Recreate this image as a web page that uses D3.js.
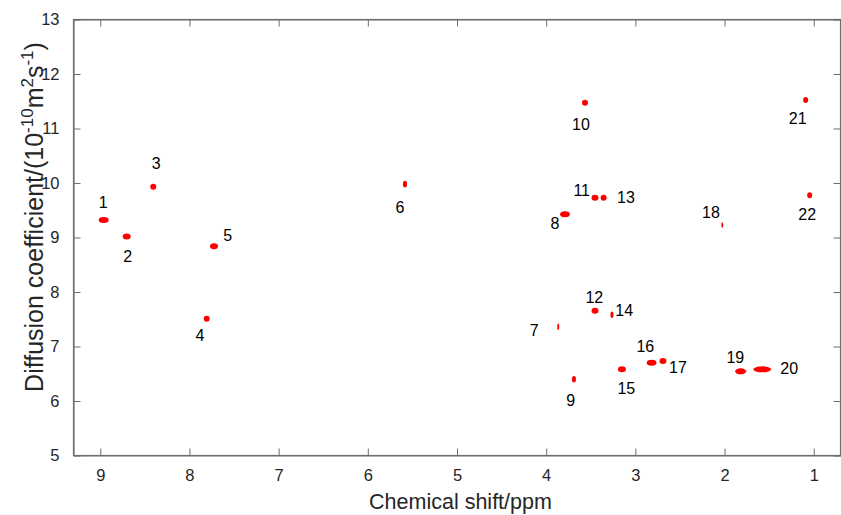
<!DOCTYPE html>
<html>
<head>
<meta charset="utf-8">
<script src="https://cdn.jsdelivr.net/npm/d3@7"></script>
<style>
  html, body { margin: 0; padding: 0; background: #fff; }
  svg { display: block; font-family: "Liberation Sans", Arial, Helvetica, sans-serif; }
</style>
</head>
<body>
<svg id="chart" width="841" height="515"></svg>
<script>
// ---- data ----
const peakIds = ["1","2","3","4","5","6","7","8","9","10","11","12","13","14","15","16","17","18","19","20","21","22"];
const shiftPpm = [8.956, 8.698, 8.40, 7.801, 7.719, 5.578, 3.859, 3.784, 3.683, 3.559, 3.447, 3.447, 3.35, 3.257, 3.145, 2.812, 2.685, 2.02, 1.814, 1.572, 1.085, 1.04];
const diffCoef = [9.31, 9.01, 9.92, 7.50, 8.83, 9.97, 7.354, 9.416, 6.389, 11.464, 9.72, 7.648, 9.72, 7.575, 6.572, 6.694, 6.725, 9.22, 6.535, 6.572, 11.514, 9.765];
const peakWidthPpm = [0.112, 0.09, 0.067, 0.067, 0.09, 0.045, 0.022, 0.11, 0.045, 0.067, 0.078, 0.078, 0.067, 0.034, 0.09, 0.11, 0.078, 0.022, 0.123, 0.2, 0.056, 0.056];
const peakHeightD = [0.11, 0.11, 0.11, 0.11, 0.11, 0.12, 0.12, 0.11, 0.12, 0.11, 0.11, 0.11, 0.11, 0.12, 0.11, 0.11, 0.11, 0.1, 0.11, 0.11, 0.11, 0.11];
const labelX = [8.96, 8.687, 8.366, 7.876, 7.566, 5.634, 4.128, 3.896, 3.72, 3.604, 3.596, 3.455, 3.10, 3.119, 3.096, 2.883, 2.517, 2.147, 1.874, 1.269, 1.175, 1.067];
const labelY = [9.63, 8.64, 10.34, 7.20, 9.03, 9.55, 7.29, 9.24, 6.0, 11.07, 9.86, 7.89, 9.73, 7.66, 6.22, 7.00, 6.61, 9.45, 6.785, 6.578, 11.178, 9.404];
const xTicks = [9, 8, 7, 6, 5, 4, 3, 2, 1];
const yTicks = [5, 6, 7, 8, 9, 10, 11, 12, 13];
const xDomain = [9.3, 0.7];
const yDomain = [5, 13];

// ---- layout ----
const svg = d3.select("#chart");
const mLeft = 73, mRight = 840, mTop = 19, mBottom = 455;
const x = d3.scaleLinear().domain(xDomain).range([mLeft, mRight]);
const y = d3.scaleLinear().domain(yDomain).range([mBottom, mTop]);
const axisColor = "#6e6e6e";
const textColor = "#262626";

// frame
svg.append("rect")
  .attr("x", mLeft + 0.5).attr("y", mTop + 0.5)
  .attr("width", mRight - mLeft).attr("height", mBottom - mTop)
  .attr("fill", "none").attr("stroke", axisColor).attr("stroke-width", 1.2);

// axes (ticks inward)
const tickLen = 7;
const xb = svg.append("g").attr("transform", `translate(0.5,${mBottom + 0.5})`)
  .call(d3.axisBottom(x).tickValues(xTicks).tickSizeInner(-tickLen).tickSizeOuter(0).tickPadding(14).tickFormat(d3.format("d")));
const xt = svg.append("g").attr("transform", `translate(0.5,${mTop + 0.5})`)
  .call(d3.axisTop(x).tickValues(xTicks).tickSizeInner(-tickLen).tickSizeOuter(0).tickFormat(""));
const yl = svg.append("g").attr("transform", `translate(${mLeft + 0.5},0.5)`)
  .call(d3.axisLeft(y).tickValues(yTicks).tickSizeInner(-tickLen).tickSizeOuter(0).tickPadding(14).tickFormat(d3.format("d")));
const yr = svg.append("g").attr("transform", `translate(${mRight + 0.5},0.5)`)
  .call(d3.axisRight(y).tickValues(yTicks).tickSizeInner(-tickLen).tickSizeOuter(0).tickFormat(""));
[xb, xt, yl, yr].forEach(g => {
  g.select(".domain").attr("stroke", axisColor).attr("stroke-width", 1.2);
  g.selectAll(".tick line").attr("stroke", axisColor).attr("stroke-width", 1);
  g.selectAll(".tick text").attr("fill", textColor).style("font-size", "16.5px").style("font-family", "'Liberation Sans', Arial, sans-serif");
});

// peaks
svg.append("g").selectAll("ellipse")
  .data(peakIds.map((id, i) => ({ id, cx: shiftPpm[i], cy: diffCoef[i], w: peakWidthPpm[i], h: peakHeightD[i] })))
  .join("ellipse")
  .attr("cx", d => x(d.cx))
  .attr("cy", d => y(d.cy))
  .attr("rx", d => Math.abs(x(d.cx + d.w / 2) - x(d.cx - d.w / 2)) / 2)
  .attr("ry", d => Math.abs(y(d.cy + d.h / 2) - y(d.cy - d.h / 2)) / 2)
  .attr("fill", "#ff0000");

// peak labels
svg.append("g").selectAll("text")
  .data(peakIds.map((id, i) => ({ id, lx: labelX[i], ly: labelY[i] })))
  .join("text")
  .attr("x", d => x(d.lx))
  .attr("y", d => y(d.ly))
  .attr("text-anchor", "middle")
  .attr("dominant-baseline", "central")
  .attr("fill", "#000")
  .style("font-size", "16px")
  .text(d => d.id);

// x axis title
svg.append("text")
  .attr("x", 460.5)
  .attr("y", 509)
  .attr("text-anchor", "middle")
  .attr("fill", textColor)
  .style("font-size", "21.5px")
  .text("Chemical shift/ppm");

// y axis title
const yt = svg.append("text")
  .attr("transform", `translate(43,217) rotate(-90)`)
  .attr("text-anchor", "middle")
  .attr("fill", textColor)
  .style("font-size", "25px");
yt.append("tspan").text("Diffusion coefficient/(10");
yt.append("tspan").attr("dy", -10).style("font-size", "17px").text("-10");
yt.append("tspan").attr("dy", 10).text("m");
yt.append("tspan").attr("dy", -10).style("font-size", "17px").text("2");
yt.append("tspan").attr("dy", 10).text("s");
yt.append("tspan").attr("dy", -10).style("font-size", "17px").text("-1");
yt.append("tspan").attr("dy", 10).text(")");
</script>
</body>
</html>
